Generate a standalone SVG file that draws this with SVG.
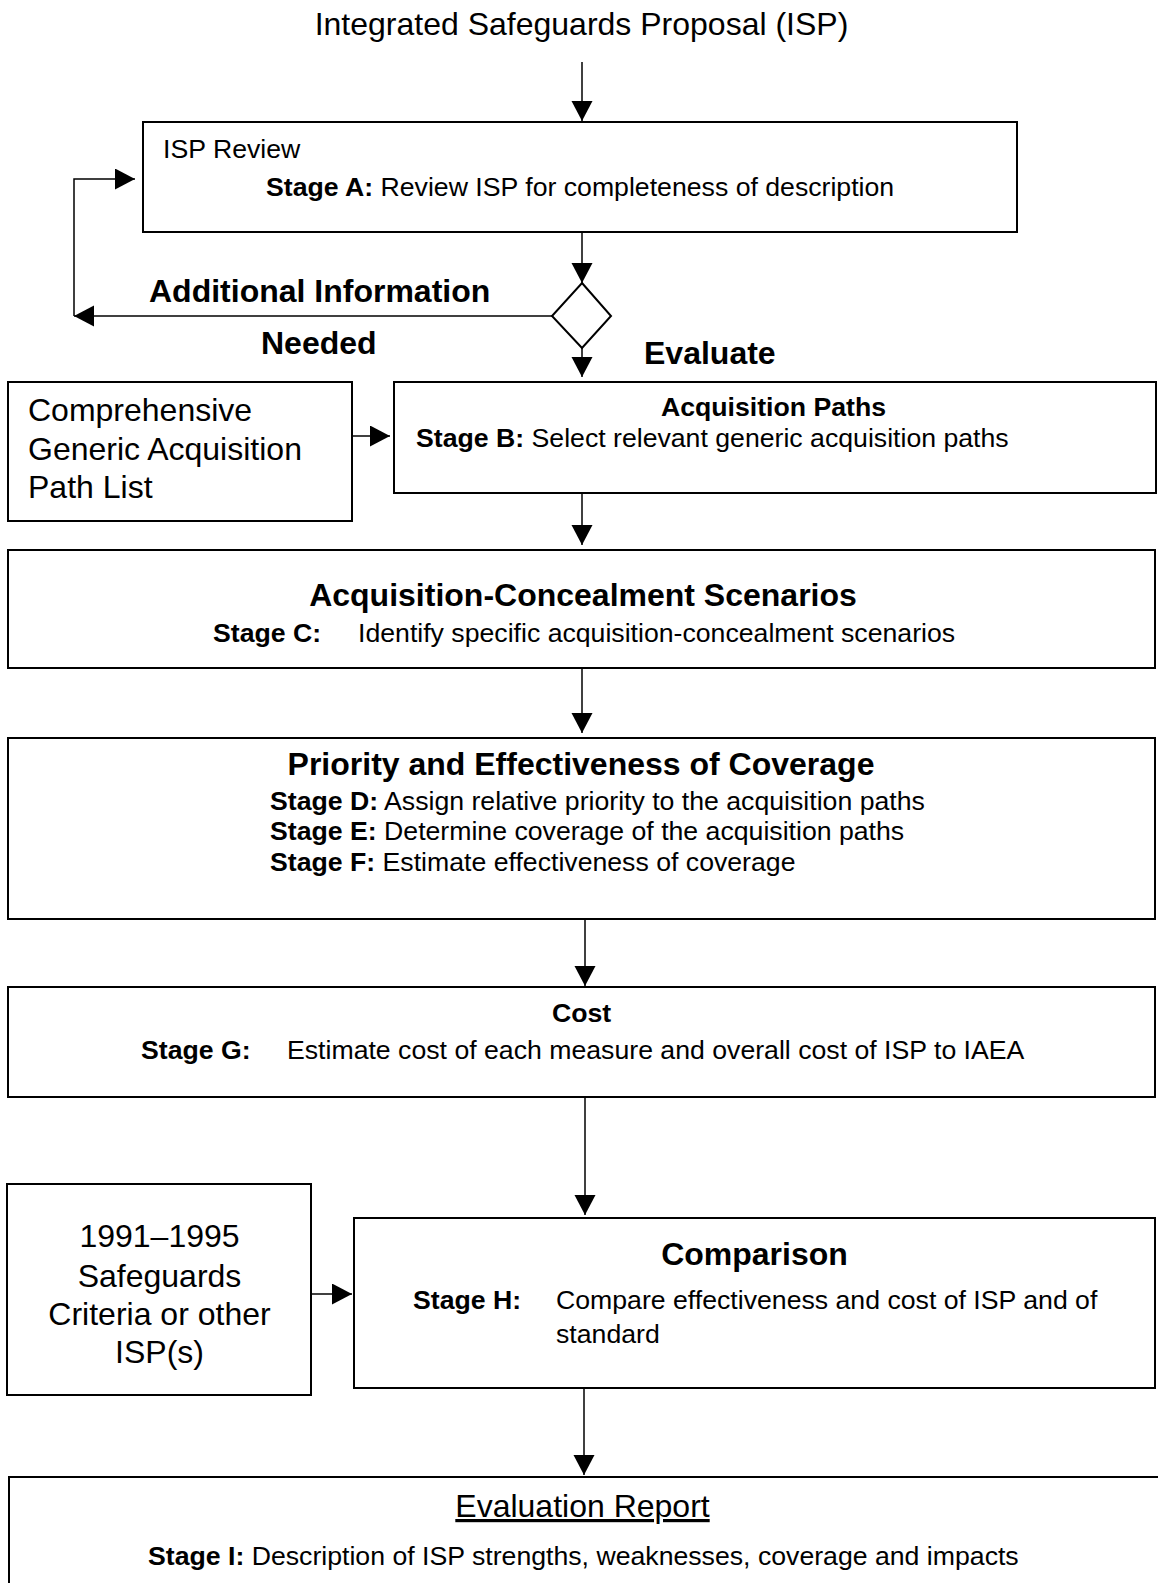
<svg xmlns="http://www.w3.org/2000/svg" width="1158" height="1583" viewBox="0 0 1158 1583">
<style>
.box{fill:#fff;stroke:#000;stroke-width:2}
.conn{fill:none;stroke:#000;stroke-width:1.5}
.arr{marker-end:url(#ah)}
text{font-family:"Liberation Sans",Arial,Helvetica,sans-serif;fill:#000}
.big{font-size:32px}
.med{font-size:26.67px}
.b{font-weight:bold}
.c{text-anchor:middle}
</style>
<defs>
<marker id="ah" markerUnits="userSpaceOnUse" markerWidth="22" markerHeight="22" refX="20" refY="10.5" orient="auto">
<path d="M0,0 L20,10.5 L0,21 Z" fill="#000"/>
</marker>
</defs>
<rect width="1158" height="1583" fill="#fff"/>

<g id="title">
<text class="big c" x="581.5" y="35">Integrated Safeguards Proposal (ISP)</text>
</g>

<g id="stageA">
<rect class="box" x="143" y="122" width="874" height="110"/>
<text class="med" x="163" y="158">ISP Review</text>
<text class="med" x="266" y="196"><tspan class="b">Stage A:</tspan> Review ISP for completeness of description</text>
</g>

<g id="decision">
<polygon class="box" points="582,283 611,316 582,348 552,316"/>
</g>

<g id="labels">
<text class="big b" x="149" y="302">Additional Information</text>
<text class="big b" x="261" y="354">Needed</text>
<text class="big b" x="644" y="364">Evaluate</text>
</g>

<g id="pathlist">
<rect class="box" x="8" y="382" width="344" height="139"/>
<text class="big" x="28" y="421">Comprehensive</text>
<text class="big" x="28" y="460">Generic Acquisition</text>
<text class="big" x="28" y="498">Path List</text>
</g>

<g id="stageB">
<rect class="box" x="394" y="382" width="762" height="111"/>
<text class="med b c" x="773.5" y="416">Acquisition Paths</text>
<text class="med" x="416" y="447"><tspan class="b">Stage B:</tspan> Select relevant generic acquisition paths</text>
</g>

<g id="stageC">
<rect class="box" x="8" y="550" width="1147" height="118"/>
<text class="big b c" x="583" y="606">Acquisition-Concealment Scenarios</text>
<text class="med" y="642"><tspan class="b" x="213">Stage C:</tspan><tspan x="358">Identify specific acquisition-concealment scenarios</tspan></text>
</g>

<g id="stageDEF">
<rect class="box" x="8" y="738" width="1147" height="181"/>
<text class="big b c" x="581" y="775">Priority and Effectiveness of Coverage</text>
<text class="med" x="270" y="810"><tspan class="b">Stage D:</tspan> Assign relative priority to the acquisition paths</text>
<text class="med" x="270" y="840"><tspan class="b">Stage E:</tspan> Determine coverage of the acquisition paths</text>
<text class="med" x="270" y="871"><tspan class="b">Stage F:</tspan> Estimate effectiveness of coverage</text>
</g>

<g id="stageG">
<rect class="box" x="8" y="987" width="1147" height="110"/>
<text class="med b c" x="581.5" y="1022">Cost</text>
<text class="med" y="1059"><tspan class="b" x="141">Stage G:</tspan><tspan x="287">Estimate cost of each measure and overall cost of ISP to IAEA</tspan></text>
</g>

<g id="criteria">
<rect class="box" x="7" y="1184" width="304" height="211"/>
<text class="big c" x="159.5" y="1247">1991–1995</text>
<text class="big c" x="159.5" y="1287">Safeguards</text>
<text class="big c" x="159.5" y="1325">Criteria or other</text>
<text class="big c" x="159.5" y="1363">ISP(s)</text>
</g>

<g id="stageH">
<rect class="box" x="354" y="1218" width="801" height="170"/>
<text class="big b c" x="754.5" y="1265">Comparison</text>
<text class="med" y="1309"><tspan class="b" x="413">Stage H:</tspan><tspan x="556">Compare effectiveness and cost of ISP and of</tspan></text>
<text class="med" x="556" y="1343">standard</text>
</g>

<g id="stageI">
<rect class="box" x="9" y="1477" width="1160" height="140"/>
<text class="big c" x="582.5" y="1517" text-decoration="underline">Evaluation Report</text>
<text class="med" x="148" y="1565"><tspan class="b">Stage I:</tspan> Description of ISP strengths, weaknesses, coverage and impacts</text>
</g>

<g id="connectors">
<line class="conn arr" x1="582" y1="62" x2="582" y2="121"/>
<line class="conn arr" x1="582" y1="232" x2="582" y2="283"/>
<line class="conn arr" x1="552" y1="316" x2="74" y2="316"/>
<polyline class="conn arr" points="74,316 74,179 135,179"/>
<line class="conn arr" x1="582" y1="348" x2="582" y2="377"/>
<line class="conn arr" x1="352" y1="436" x2="390" y2="436"/>
<line class="conn arr" x1="582" y1="493" x2="582" y2="545"/>
<line class="conn arr" x1="582" y1="668" x2="582" y2="733"/>
<line class="conn arr" x1="585" y1="919" x2="585" y2="986"/>
<line class="conn arr" x1="585" y1="1097" x2="585" y2="1215"/>
<line class="conn arr" x1="311" y1="1294" x2="352" y2="1294"/>
<line class="conn arr" x1="584" y1="1388" x2="584" y2="1475"/>
</g>
</svg>
